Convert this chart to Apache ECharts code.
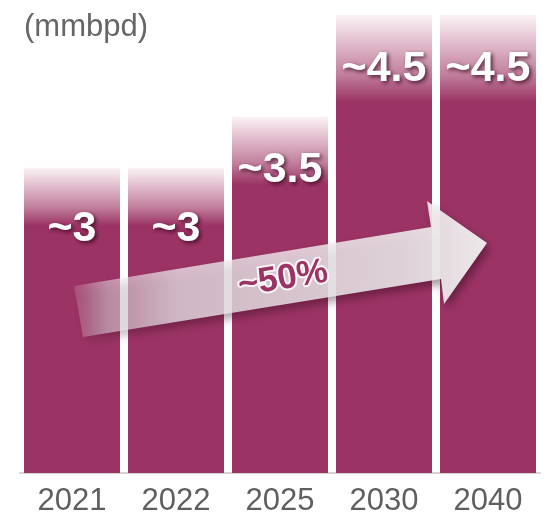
<!DOCTYPE html>
<html>
<head>
<meta charset="utf-8">
<style>
  html, body { margin: 0; padding: 0; background: #ffffff; }
  #chart { width: 551px; height: 519px; }
</style>
<script src="https://cdn.jsdelivr.net/npm/echarts@6/dist/echarts.min.js"></script>
</head>
<body>
<div id="chart"></div>
<script>
// Production outlook, million barrels per day
const years = ['2021', '2022', '2025', '2030', '2040'];
const output = [3, 3, 3.5, 4.5, 4.5];
const valueLabels = ['~3', '~3', '~3.5', '~4.5', '~4.5'];
const growthLabel = '~50%';
const unitLabel = '(mmbpd)';

const BAR = '#9b3364';
const labelGap = [40, 40, 32, 33, 33];

const chart = echarts.init(document.getElementById('chart'), null, { renderer: 'canvas' });

// Bars fade from white into solid colour over the top fifth
const barFill = new echarts.graphic.LinearGradient(0, 0, 0, 1, [
  { offset: 0, color: '#faf3f6' },
  { offset: 0.06, color: '#e2bdcd' },
  { offset: 0.13, color: '#c17f9c' },
  { offset: 0.19, color: BAR },
  { offset: 1, color: BAR }
]);

const seriesData = output.map((v, i) => ({
  value: v,
  label: { formatter: valueLabels[i], distance: labelGap[i] }
}));

// Growth arrow along the bars
const arrowPts = [[74, 286], [431, 227], [427, 201], [487, 243], [444, 304], [441, 279], [83, 337]];
const arrowFill = new echarts.graphic.LinearGradient(74, 0, 487, 0, [
  { offset: 0, color: 'rgba(240,234,238,0.15)' },
  { offset: 0.08, color: 'rgba(240,234,238,0.5)' },
  { offset: 0.25, color: 'rgba(240,234,238,0.74)' },
  { offset: 0.8, color: 'rgba(240,236,238,0.87)' },
  { offset: 1, color: 'rgba(242,240,241,0.96)' }
], true);

chart.setOption({
  animation: false,
  backgroundColor: '#ffffff',
  grid: { left: 20, right: 11, top: 15, bottom: 46 },
  xAxis: {
    type: 'category',
    data: years,
    axisLine: { lineStyle: { color: '#d4d4d4', width: 2 } },
    axisTick: { show: false },
    axisLabel: {
      color: '#5f5f5f',
      fontSize: 31,
      fontFamily: 'Liberation Sans, Arial, sans-serif',
      margin: 13
    }
  },
  yAxis: {
    type: 'value',
    min: 0,
    max: 4.5,
    show: false
  },
  series: [{
    type: 'bar',
    data: seriesData,
    barCategoryGap: '7.7%',
    itemStyle: { color: barFill },
    label: {
      show: true,
      position: 'insideTop',
      color: '#ffffff',
      fontSize: 43,
      fontWeight: 'bold',
      fontFamily: 'Liberation Sans, Arial, sans-serif',
      textShadowColor: 'rgba(40,0,20,0.75)',
      textShadowBlur: 4,
      textShadowOffsetX: 2,
      textShadowOffsetY: 2
    },
    z: 2
  }],
  graphic: [
    {
      type: 'text',
      left: 24,
      top: 12,
      style: {
        text: unitLabel,
        fill: '#666666',
        fontSize: 31,
        fontFamily: 'Liberation Sans, Arial, sans-serif'
      }
    },
    {
      type: 'polygon',
      z: 10,
      shape: { points: arrowPts },
      style: {
        fill: arrowFill,
        shadowColor: 'rgba(30,0,15,0.45)',
        shadowBlur: 8,
        shadowOffsetX: 3,
        shadowOffsetY: 5
      }
    },
    {
      type: 'text',
      z: 11,
      x: 283,
      y: 279,
      rotation: 0.164,
      style: {
        text: growthLabel,
        fill: BAR,
        fontSize: 35,
        fontWeight: 'bold',
        fontFamily: 'Liberation Sans, Arial, sans-serif',
        stroke: 'rgba(255,255,255,0.85)',
        lineWidth: 4,
        align: 'center',
        verticalAlign: 'middle'
      }
    }
  ]
});
</script>
</body>
</html>
